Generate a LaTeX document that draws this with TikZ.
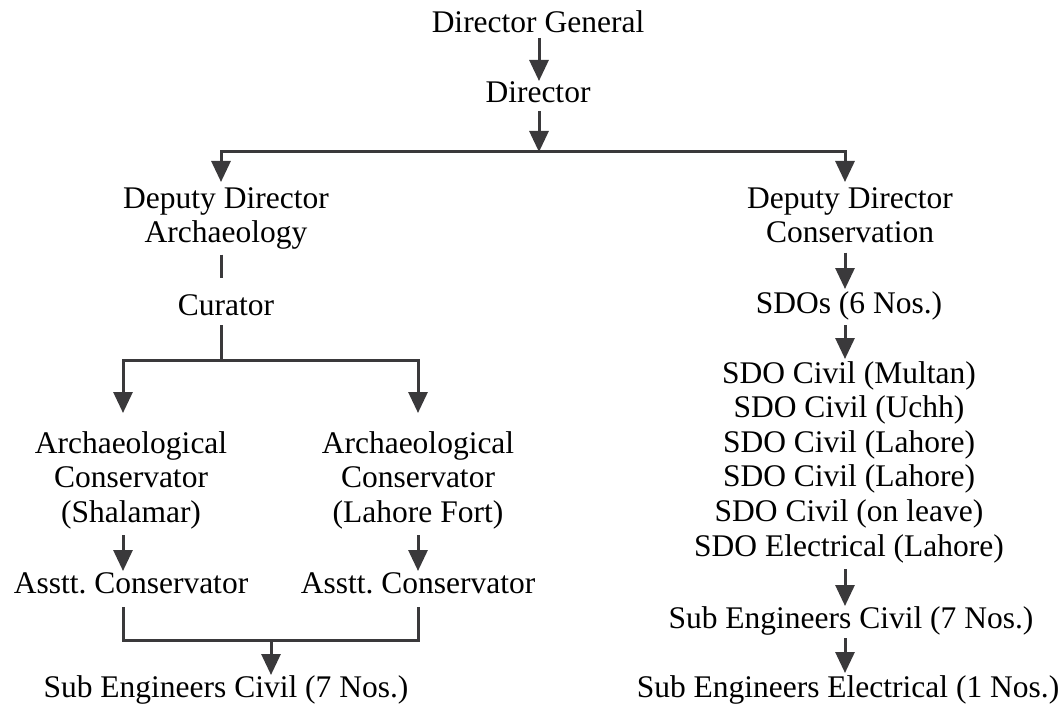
\documentclass[tikz,border=0pt]{standalone}
\usepackage{fontspec}
\setmainfont{Liberation Serif}
\usetikzlibrary{arrows.meta}
\definecolor{linegray}{HTML}{3A393B}
\frenchspacing
% invisible strut: 22pt above the baseline, 8pt below
\newcommand\ocS{\rule[-8pt]{0pt}{30pt}}
\begin{document}
\begin{tikzpicture}[x=1pt,y=-1pt,
  lbl/.style={anchor=north, inner sep=0pt, outer sep=0pt, align=center,
              font=\fontsize{31.5}{34.6}\selectfont},
  conn/.style={draw=linegray, line width=3pt},
  arr/.style={conn, -{Triangle[width=19pt,length=21pt]}},
]
\useasboundingbox (0,0) rectangle (1063,706);

% --- labels ---
\node[lbl] (dg)   at (538,11)  {\ocS Director General};
\node[lbl] (dir)  at (538,81)  {\ocS Director};
\node[lbl] (dda)  at (226,186) {\ocS Deputy Director\\\ocS Archaeology};
\node[lbl] (cur)  at (226,293) {\ocS Curator};
\node[lbl] (acl)  at (131,431) {\ocS Archaeological\\\ocS Conservator\\\ocS (Shalamar)};
\node[lbl] (acr)  at (418,431) {\ocS Archaeological\\\ocS Conservator\\\ocS (Lahore Fort)};
\node[lbl] (asl)  at (131,571) {\ocS Asstt. Conservator};
\node[lbl] (asr)  at (418,571) {\ocS Asstt. Conservator};
\node[lbl] (sel)  at (226,675) {\ocS Sub Engineers Civil (7 Nos.)};
\node[lbl] (ddc)  at (850,186) {\ocS Deputy Director\\\ocS Conservation};
\node[lbl] (sdos) at (849,291) {\ocS SDOs (6 Nos.)};
\node[lbl] (sdol) at (849,361) {\ocS SDO Civil (Multan)\\\ocS SDO Civil (Uchh)\\\ocS SDO Civil (Lahore)\\
                                \ocS SDO Civil (Lahore)\\\ocS SDO Civil (on leave)\\\ocS SDO Electrical (Lahore)};
\node[lbl] (sec)  at (851,606) {\ocS Sub Engineers Civil (7 Nos.)};
\node[lbl] (see)  at (848,675) {\ocS Sub Engineers Electrical (1 Nos.)};

% --- junction points ---
\coordinate (top) at (539,152);
\coordinate (jl)  at (221,152);
\coordinate (jr)  at (845,152);
\coordinate (jc)  at (221,360);
\coordinate (jcl) at (123,360);
\coordinate (jcr) at (418,360);
\coordinate (ja)  at (271,640);
\coordinate (jal) at (123,640);
\coordinate (jar) at (418,640);

% --- top ---
\draw[arr, shorten <=-3pt] (dg.south -| top) -- (dir.north -| top);
\draw[arr] (dir.south -| top) -- (top);
\draw[arr, shorten >=4pt] (top) -| (dda.north -| jl);
\draw[arr, shorten >=4pt] (top) -| (ddc.north -| jr);

% --- archaeology branch ---
\draw[conn, shorten <=4pt, shorten >=15pt] (dda.south -| jl) -- (cur.north -| jl);
\draw[conn, shorten <=2pt] (cur.south -| jc) -- (jc);
\draw[arr, shorten >=18pt] (jc) -| (acl.north -| jcl);
\draw[arr, shorten >=18pt] (jc) -| (acr.north -| jcr);
\draw[arr, shorten <=5pt] (acl.south -| jcl) -- (asl.north -| jcl);
\draw[arr, shorten <=5pt] (acr.south -| jcr) -- (asr.north -| jcr);
\draw[conn, shorten <=6pt, shorten >=6pt] (asl.south -| jal) -- (jal) -- (jar) -- (asr.south -| jar);
\draw[arr] (ja) -- (sel.north -| ja);

% --- conservation branch ---
\draw[arr, shorten <=2pt, shorten >=2pt] (ddc.south -| jr) -- (sdos.north -| jr);
\draw[arr, shorten <=4pt, shorten >=2pt] (sdos.south -| jr) -- (sdol.north -| jr);
\draw[arr, shorten <=5pt] (sdol.south -| jr) -- (sec.north -| jr);
\draw[arr, shorten <=2pt, shorten >=2pt] (sec.south -| jr) -- (see.north -| jr);
\end{tikzpicture}
\end{document}
